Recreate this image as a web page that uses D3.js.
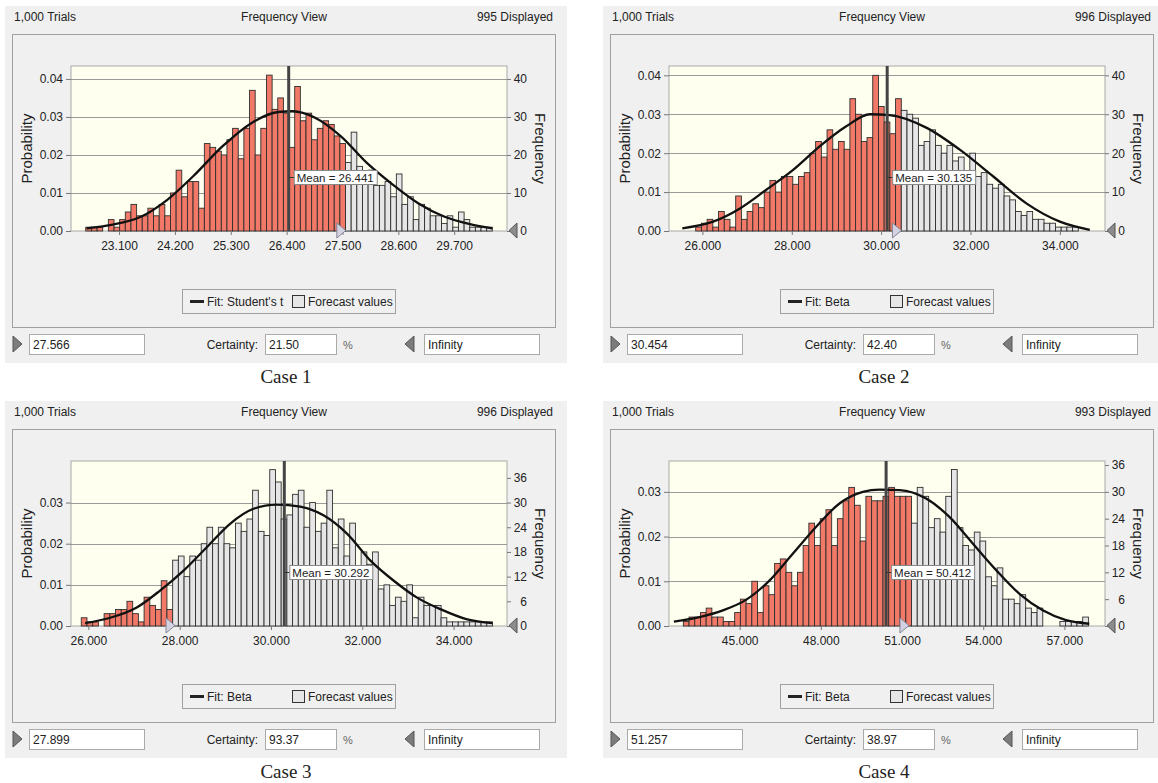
<!DOCTYPE html>
<html>
<head>
<meta charset="utf-8">
<script src="https://cdn.jsdelivr.net/npm/d3@7"></script>
<style>
body { margin: 0; background: #fff; }
svg text { font-family: "Liberation Sans", Arial, sans-serif; fill: #222; }
svg text.caption { font-family: "Liberation Serif", "Times New Roman", serif; }
</style>
</head>
<body>
<div id="chart"></div>
<script>
const width = 1158
const height = 783

// chart values
const cases = ["Case 1", "Case 2", "Case 3", "Case 4"]
const trials = "1,000"
const displayed = [995, 996, 996, 993]
const fitNames = ["Student's t", "Beta", "Beta", "Beta"]
const means = [26.441, 30.135, 30.292, 50.412]
const lowerValues = [27.566, 30.454, 27.899, 51.257]
const lowerLabels = ["27.566", "30.454", "27.899", "51.257"]
const certainty = ["21.50", "42.40", "93.37", "38.97"]
const upperLabel = "Infinity"

const binStart = [22.445, 25.85, 25.845, 42.92]
const binWidth = [0.1112, 0.1278, 0.1251, 0.2108]
const xDomains = [[22.154, 30.74], [25.252, 35.01], [25.62, 35.17], [42.39, 58.5]]
const yMax = [0.0434, 0.0424, 0.0401, 0.0369]

const xTicks = [
    [23.1, 24.2, 25.3, 26.4, 27.5, 28.6, 29.7],
    [26, 28, 30, 32, 34],
    [26, 28, 30, 32, 34],
    [45, 48, 51, 54, 57]
]
const probTicks = [
    [0, 0.01, 0.02, 0.03, 0.04],
    [0, 0.01, 0.02, 0.03, 0.04],
    [0, 0.01, 0.02, 0.03],
    [0, 0.01, 0.02, 0.03]
]
const freqTicks = [
    [0, 10, 20, 30, 40],
    [0, 10, 20, 30, 40],
    [0, 6, 12, 18, 24, 30, 36],
    [0, 6, 12, 18, 24, 30, 36]
]

// frequency per bin
const counts1 = [1,1,1,0,3,1,3,5,7,4, 4,6,4,7,4,10,16,9,13,13, 6,23,22,21,20,24,27,19,27,37,
    20,27,41,32,35,31,22,38,29,31, 24,27,29,28,25,23,
    18,26,17,13,16,12,12,13,9,15, 7,9,3,7,6,4,4,2,4,1, 5,3,1,1,1,1]
const counts2 = [1,2,3,1,5,3,1,9,3,5, 7,6,10,13,10,14,14,12,14,15, 20,23,19,26,21,23,21,34,30,23,
    24,40,32,28,25,34,
    31,30,29,22,23,26,22,20,22,18, 19,15,20,14,15,12,11,12,9,8, 5,4,5,3,3,2,2,1,1,1,1]
const counts3 = [2,1,1,0,3,3,4,4,6,3, 1,7,5,4,11,4,
    16,17,12,17,16,20,24,20,24,20, 19,25,23,26,33,23,22,38,35,26, 27,
    32,33,24,30,23,25,33,19,26,17, 25,14,18,15,18,9,10,5,7,6, 10,2,7,5,5,5,2,1,1,1, 1,1,1,1,1]
const counts4 = [1,2,2,3,4,2,2,1,1,3, 6,5,10,3,9,7,14,15,12,9, 12,18,23,18,24,26,18,24,28,31,
    27,19,29,28,28,29,31,29,29,29,
    23,31,29,22,24,21,29,35,22,18, 17,21,19,11,9,13,6,6,5,7, 4,3,4,0,0,0,1,1,1,1, 2]
const counts = [counts1, counts2, counts3, counts4]

// fitted curve, points: [value, probability]
const fit1 = [[22.46,0.0007],[22.95,0.0016],[23.54,0.0038],[24.05,0.0082],[24.56,0.0144],[25.14,0.0223],
    [25.72,0.0285],[26.23,0.0313],[26.52,0.0315],[26.96,0.0298],[27.47,0.0249],[27.98,0.0179],
    [28.49,0.0122],[28.99,0.0073],[29.5,0.0038],[30.01,0.0018],[30.45,0.0007]]
const fit2 = [[25.55,0.0007],[26.24,0.0024],[26.84,0.0058],[27.43,0.0106],[28.03,0.0157],[28.63,0.0218],
    [29.22,0.0269],[29.75,0.03],[30.19,0.0298],[31.02,0.0265],[31.76,0.0209],[32.51,0.014],
    [33.25,0.0071],[34.0,0.0024],[34.67,0.0003]]
const fit3 = [[25.93,0.0007],[26.48,0.002],[27.06,0.0045],[27.57,0.0086],[28.08,0.0134],[28.6,0.0192],
    [29.11,0.0249],[29.62,0.0285],[30.13,0.0295],[30.64,0.029],[31.15,0.0269],[31.67,0.0224],
    [32.18,0.0159],[32.69,0.011],[33.2,0.0069],[33.71,0.0041],[34.3,0.0016],[34.85,0.0007]]
const fit4 = [[42.57,0.001],[43.52,0.002],[44.38,0.0035],[45.25,0.0059],[46.11,0.0102],[46.97,0.0162],
    [47.83,0.0222],[48.69,0.0274],[49.55,0.03],[50.17,0.0305],[50.91,0.0304],[51.89,0.0285],
    [52.75,0.0244],[53.62,0.0184],[54.48,0.0125],[55.34,0.0072],[56.2,0.0035],[57.06,0.0013],[57.92,0.0005]]
const fits = [fit1, fit2, fit3, fit4]

// layout
const origins = [[0, 0], [598, 0], [0, 395], [598, 395]]
const plot = { left: 71, right: 507, top: 66, bottom: 231 }
const red = "#f27968"
const pale = "#e6e6e6"

const svg = d3.select("div#chart").append("svg").attr("width", width).attr("height", height)

function drawPanel(i) {
    const [ox, oy] = origins[i]
    const g = svg.append("g").attr("transform", `translate(${ox}, ${oy})`)

    g.append("rect").attr("x", 5).attr("y", 6).attr("width", 562).attr("height", 357).attr("fill", "#f0f0f0")

    // header
    g.append("text").attr("x", 14).attr("y", 21).attr("font-size", 12).text(`${trials} Trials`)
    g.append("text").attr("x", 284).attr("y", 21).attr("font-size", 12).attr("text-anchor", "middle").text("Frequency View")
    g.append("text").attr("x", 553).attr("y", 21).attr("font-size", 12).attr("text-anchor", "end").text(`${displayed[i]} Displayed`)

    g.append("rect").attr("x", 12.5).attr("y", 34.5).attr("width", 543).attr("height", 293)
        .attr("fill", "none").attr("stroke", "#a0a0a0")

    const x = d3.scaleLinear().domain(xDomains[i]).range([plot.left, plot.right])
    const yP = d3.scaleLinear().domain([0, yMax[i]]).range([plot.bottom, plot.top])
    const yF = d3.scaleLinear().domain([0, yMax[i] * 1000]).range([plot.bottom, plot.top])

    g.append("rect").attr("x", plot.left).attr("y", plot.top)
        .attr("width", plot.right - plot.left).attr("height", plot.bottom - plot.top)
        .attr("fill", "#fffff0").attr("stroke", "#a8a8a8")

    // grid lines
    g.selectAll("line.grid").data(probTicks[i].filter(d => d > 0)).enter().append("line")
        .attr("class", "grid")
        .attr("x1", plot.left).attr("x2", plot.right)
        .attr("y1", d => Math.round(yP(d)) + 0.5).attr("y2", d => Math.round(yP(d)) + 0.5)
        .attr("stroke", "#9a9a9a")

    // bars
    const bins = counts[i].map((c, k) => ({
        x0: binStart[i] + k * binWidth[i],
        x1: binStart[i] + (k + 1) * binWidth[i],
        c: c
    })).filter(d => d.c > 0)

    g.selectAll("rect.bar").data(bins).enter().append("rect")
        .attr("class", "bar")
        .attr("x", d => x(d.x0))
        .attr("width", d => x(d.x1) - x(d.x0))
        .attr("y", d => yF(d.c))
        .attr("height", d => yF(0) - yF(d.c))
        .attr("fill", d => (d.x0 + d.x1) / 2 < lowerValues[i] ? red : pale)
        .attr("stroke", "#2e2e2e")
        .attr("stroke-width", 0.9)

    // fit curve
    const line = d3.line().x(d => x(d[0])).y(d => yP(d[1])).curve(d3.curveMonotoneX)
    g.append("path").datum(fits[i]).attr("d", line)
        .attr("fill", "none").attr("stroke", "#111").attr("stroke-width", 2.3)

    // mean line and label
    const mx = x(means[i])
    g.append("line").attr("x1", mx).attr("x2", mx).attr("y1", plot.top).attr("y2", plot.bottom)
        .attr("stroke", "#444").attr("stroke-width", 3)
    g.append("line").attr("x1", mx).attr("x2", mx + 6).attr("y1", 177.5).attr("y2", 177.5)
        .attr("stroke", "#333")
    const meanBox = g.append("rect").attr("x", mx + 5.5).attr("y", 170.5).attr("height", 14)
        .attr("fill", "#fff").attr("stroke", "#888")
    const meanText = g.append("text").attr("x", mx + 8).attr("y", 181.5).attr("font-size", 11.5)
        .text(`Mean = ${d3.format(".3f")(means[i])}`)
    meanBox.attr("width", meanText.node().getComputedTextLength() + 6)

    // axes
    const xAxis = d3.axisBottom(x).tickValues(xTicks[i]).tickFormat(d3.format(".3f")).tickSize(4).tickPadding(6)
    const xg = g.append("g").attr("transform", `translate(0, ${plot.bottom})`).call(xAxis)
    const yAxisL = d3.axisLeft(yP).tickValues(probTicks[i]).tickFormat(d3.format(".2f")).tickSize(5).tickPadding(3)
    const yl = g.append("g").attr("transform", `translate(${plot.left}, 0)`).call(yAxisL)
    const yAxisR = d3.axisRight(yF).tickValues(freqTicks[i]).tickFormat(d3.format("d")).tickSize(4)
    const yr = g.append("g").attr("transform", `translate(${plot.right}, 0)`).call(yAxisR)
    yr.selectAll("text").attr("text-anchor", "end").attr("x", 20)
    ;[xg, yl, yr].forEach(a => {
        a.select(".domain").remove()
        a.selectAll(".tick line").attr("stroke", "#777")
        a.selectAll("text").attr("font-size", 12)
    })

    // axis titles
    g.append("text").attr("transform", `translate(32, ${(plot.top + plot.bottom) / 2}) rotate(-90)`)
        .attr("text-anchor", "middle").attr("font-size", 15).text("Probability")
    g.append("text").attr("transform", `translate(535, ${(plot.top + plot.bottom) / 2}) rotate(90)`)
        .attr("text-anchor", "middle").attr("font-size", 15).text("Frequency")

    // sliders on the axis
    const tx = x(lowerValues[i])
    g.append("path").attr("d", `M${tx - 9},223 L${tx},230.5 L${tx - 9},238 Z`)
        .attr("fill", "#d2d2e2").attr("stroke", "#858595")
    g.append("path").attr("d", `M${plot.right + 2},230.5 L${plot.right + 10},223 L${plot.right + 10},238 Z`)
        .attr("fill", "#8c8c8c").attr("stroke", "#555")

    // legend
    g.append("rect").attr("x", 182.5).attr("y", 289.5).attr("width", 213).attr("height", 24)
        .attr("fill", "#f0f0f0").attr("stroke", "#a0a0a0")
    g.append("line").attr("x1", 190).attr("x2", 204).attr("y1", 301.5).attr("y2", 301.5)
        .attr("stroke", "#222").attr("stroke-width", 3)
    g.append("text").attr("x", 207).attr("y", 305.5).attr("font-size", 12).text(`Fit: ${fitNames[i]}`)
    g.append("rect").attr("x", 292.5).attr("y", 295.5).attr("width", 12).attr("height", 12)
        .attr("fill", pale).attr("stroke", "#333")
    g.append("text").attr("x", 308).attr("y", 305.5).attr("font-size", 12).text("Forecast values")

    // bottom controls
    g.append("path").attr("d", "M13,336 L22,344 L13,352 Z").attr("fill", "#7c7c7c").attr("stroke", "#555")
    g.append("rect").attr("x", 29.5).attr("y", 334.5).attr("width", 115).attr("height", 20)
        .attr("fill", "#fff").attr("stroke", "#aaa")
    g.append("text").attr("x", 33).attr("y", 348.5).attr("font-size", 12).text(lowerLabels[i])
    g.append("text").attr("x", 258).attr("y", 348.5).attr("font-size", 12).attr("text-anchor", "end").text("Certainty:")
    g.append("rect").attr("x", 265.5).attr("y", 334.5).attr("width", 71).attr("height", 20)
        .attr("fill", "#fff").attr("stroke", "#aaa")
    g.append("text").attr("x", 269).attr("y", 348.5).attr("font-size", 12).text(certainty[i])
    g.append("text").attr("x", 343).attr("y", 348.5).attr("font-size", 11).style("fill", "#666").text("%")
    g.append("path").attr("d", "M414,336 L405,344 L414,352 Z").attr("fill", "#7c7c7c").attr("stroke", "#555")
    g.append("rect").attr("x", 424.5).attr("y", 334.5).attr("width", 115).attr("height", 20)
        .attr("fill", "#fff").attr("stroke", "#aaa")
    g.append("text").attr("x", 428).attr("y", 348.5).attr("font-size", 12).text(upperLabel)

    // caption
    g.append("text").attr("class", "caption").attr("x", 286).attr("y", 383).attr("text-anchor", "middle")
        .attr("font-size", 19).text(cases[i])
}

cases.forEach((c, i) => drawPanel(i))
</script>
</body>
</html>
